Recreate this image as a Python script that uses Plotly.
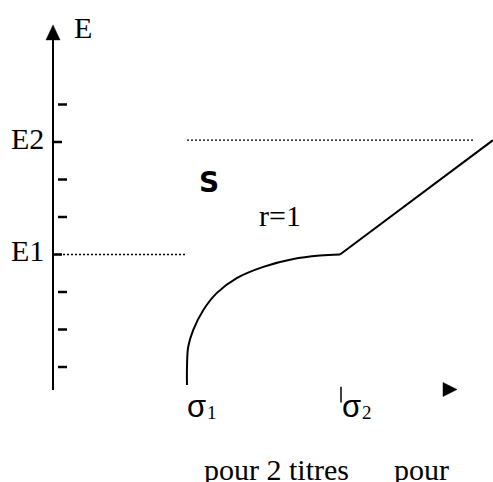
import plotly.graph_objects as go

# ---- data (sigma units, E units) ----
sigma_curve = [1.0, 1.0, 1.008, 1.041, 1.107, 1.194, 1.325, 1.499, 1.695, 1.869, 2.0]
E_curve = [0.52, 1.01, 1.54, 1.99, 2.52, 2.97, 3.37, 3.67, 3.88, 3.97, 4.0]
sigma_line = [2.0, 3.0]
E_line = [4.0, 7.05]
tick_E = [1, 2, 3, 5, 6, 8]
level_names = ["E1", "E2"]
level_E = [4.0, 7.05]
sigma_subs = ["1", "2"]
sigma_marks = [1.0, 2.0]
axis_title = "E"
region_label = "S"
ratio_label = "r=1"
caption_left = "pour 2 titres"
caption_right = "pour"

W, H = 493, 482
X0, X1 = -0.2222, 3.0
Y0, Y1 = -2.0667, 10.7867
px_x = (X1 - X0) / W   # sigma per pixel
px_y = (Y1 - Y0) / H   # E per pixel

axis_x = 0.1242
axis_bot, axis_top = 0.387, 9.75

SERIF = "Liberation Serif"
fig = go.Figure()

# E axis line
fig.add_trace(go.Scatter(x=[axis_x, axis_x], y=[axis_bot, axis_top], mode="lines",
                         line=dict(color="black", width=2), hoverinfo="skip"))
# arrow head (up)
fig.add_trace(go.Scatter(x=[axis_x - 7 * px_x, axis_x + 7 * px_x, axis_x, axis_x - 7 * px_x],
                         y=[axis_top - 1 * px_y, axis_top - 1 * px_y, axis_top + 14 * px_y, axis_top - 1 * px_y],
                         mode="lines", fill="toself", fillcolor="black",
                         line=dict(color="black", width=0.5), hoverinfo="skip"))

# tick dashes
shapes = []
for e in tick_E:
    shapes.append(dict(type="line", xref="x", yref="y",
                       x0=axis_x + 5 * px_x, x1=axis_x + 14 * px_x, y0=e, y1=e,
                       line=dict(color="black", width=2.5)))
for e in level_E:
    ee = round(e)
    shapes.append(dict(type="line", xref="x", yref="y",
                       x0=axis_x + 1 * px_x, x1=axis_x + 9 * px_x, y0=ee, y1=ee,
                       line=dict(color="black", width=2.5)))

# dotted levels
shapes.append(dict(type="line", xref="x", yref="y", x0=axis_x + 2 * px_x, x1=sigma_marks[0],
                   y0=level_E[0], y1=level_E[0], line=dict(color="black", width=1.3, dash="2px,2px")))
shapes.append(dict(type="line", xref="x", yref="y", x0=sigma_marks[0], x1=sigma_line[1] - 18 * px_x,
                   y0=level_E[1], y1=level_E[1], line=dict(color="black", width=1.3, dash="2px,2px")))

# small vertical mark at sigma2
shapes.append(dict(type="line", xref="x", yref="y", x0=sigma_marks[1] + 1 * px_x, x1=sigma_marks[1] + 1 * px_x,
                   y0=0.47, y1=0.05, line=dict(color="black", width=1.5)))

# curve and line
fig.add_trace(go.Scatter(x=sigma_curve, y=E_curve, mode="lines", line_shape="spline",
                         line=dict(color="black", width=2), hoverinfo="skip"))
fig.add_trace(go.Scatter(x=sigma_line, y=E_line, mode="lines",
                         line=dict(color="black", width=2), hoverinfo="skip"))

# right-pointing arrow head
ax_r, ay_r = 2.719, 0.4
fig.add_trace(go.Scatter(x=[ax_r - 7 * px_x, ax_r - 7 * px_x, ax_r + 7 * px_x, ax_r - 7 * px_x],
                         y=[ay_r + 7 * px_y, ay_r - 7 * px_y, ay_r, ay_r + 7 * px_y],
                         mode="lines", fill="toself", fillcolor="black",
                         line=dict(color="black", width=0.5), hoverinfo="skip"))

ann = []
def T(text, x, y, size=30, family=SERIF, xanchor="center", yanchor="middle"):
    ann.append(dict(text=text, x=x, y=y, xref="x", yref="y", showarrow=False,
                    font=dict(family=family, size=size, color="black"),
                    xanchor=xanchor, yanchor=yanchor))

T(axis_title, 0.32, 10.0 + 2 * px_y)
for name, e in zip(level_names, level_E):
    T(name, axis_x - 7 * px_x, round(e) + 4 * px_y, xanchor="right")
T("<b>" + region_label + "</b>", 1.144, 5.85 + 3 * px_y, size=28, family="DejaVu Sans, Verdana, sans-serif")
T(ratio_label, 1.608, 4.95 + 3 * px_y)
for sub, s, dx in zip(sigma_subs, sigma_marks, [-1, 1]):
    T("σ", s + (dx - 1) * px_x, -0.1 + 2 * px_y, size=31, family="Liberation Sans", xanchor="left")
    T(sub, s + (dx + 19) * px_x, -0.2, size=19, xanchor="left")
T(caption_left, 1.588, -1.72)
T(caption_right, 2.53, -1.72)

fig.update_layout(width=W, height=H, autosize=False,
                  margin=dict(l=0, r=0, t=0, b=0, pad=0),
                  paper_bgcolor="white", plot_bgcolor="white",
                  showlegend=False, shapes=shapes, annotations=ann,
                  xaxis=dict(range=[X0, X1], visible=False, fixedrange=True),
                  yaxis=dict(range=[Y0, Y1], visible=False, fixedrange=True))
fig.write_html("out.html", config={"displayModeBar": False},
               post_script="document.body.style.margin='0';document.body.style.overflow='hidden';")
